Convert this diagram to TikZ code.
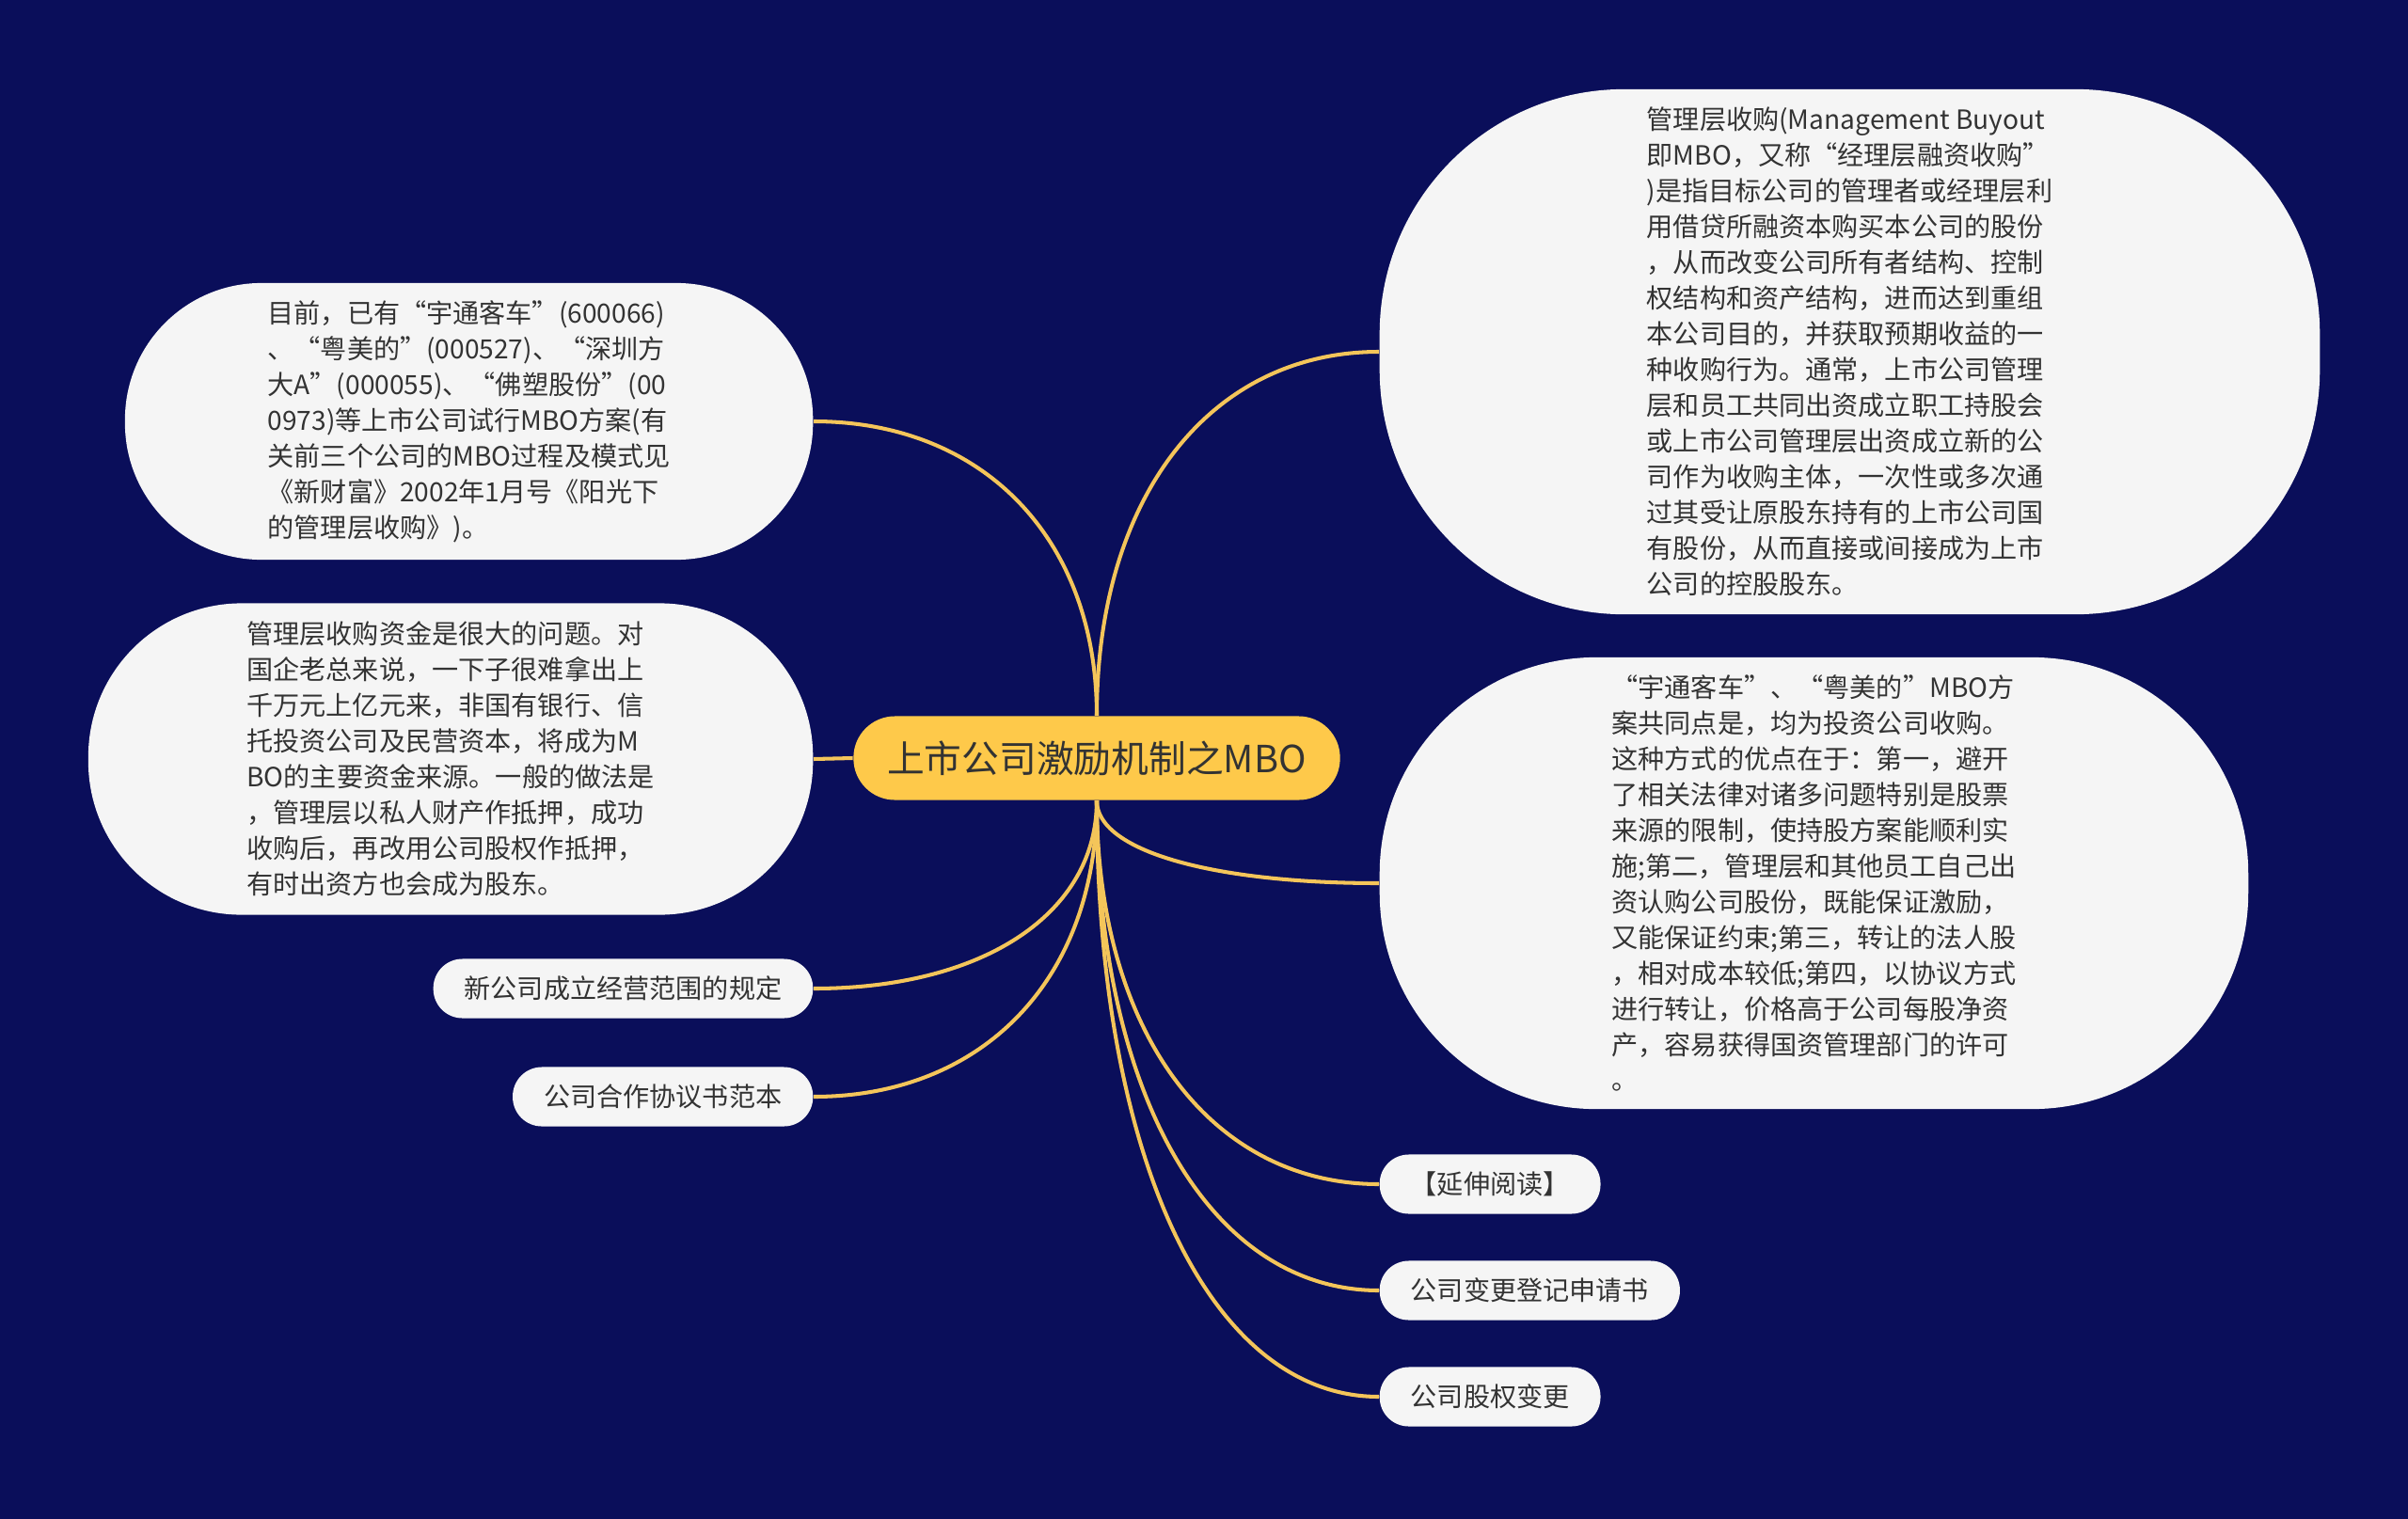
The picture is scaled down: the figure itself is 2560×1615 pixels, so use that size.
\documentclass[tikz,border=0pt]{standalone}
\usepackage{fontspec}
\setmainfont{Noto Sans CJK SC}
\usetikzlibrary{positioning, calc}
\definecolor{mapNavy}{HTML}{0A0E5A}
\definecolor{mapGold}{HTML}{FEC94A}
\definecolor{mapLine}{HTML}{F4C55A}
\definecolor{mapCard}{HTML}{F5F5F5}
\definecolor{mapText}{HTML}{333333}
\tikzset{
  link/.style={draw=mapLine, line width=1.15pt},
  bendlink/.style={to path={.. controls ($(\tikztostart)!0.6!(\tikztostart |- \tikztotarget)$)
                   and ($(\tikztotarget)!0.6!(\tikztostart |- \tikztotarget)$) .. (\tikztotarget)}},
  rootBox/.style={rectangle, rounded corners=0.44cm, fill=mapGold, text=mapText,
                  font=\fontsize{11.3}{13}\selectfont, minimum width=5.17cm,
                  minimum height=0.89cm, inner sep=0pt},
  leafBox/.style={rectangle, rounded corners=0.31cm, fill=mapCard, text=mapText,
                  font=\fontsize{8}{10.8}\selectfont, minimum height=0.63cm,
                  inner xsep=0.33cm, inner ysep=0pt},
  noteBox/.style={rectangle, fill=mapCard, text=mapText, align=left,
                  font=\fontsize{8}{10.8}\selectfont, inner sep=0pt},
}
\begin{document}
\begin{tikzpicture}[x=0.01cm, y=-0.01cm]
    \fill[mapNavy] (0,0) rectangle (2560,1615);
    \useasboundingbox (0,0) rectangle (2560,1615);
    \node[rootBox] (root) at (1166,806) {上市公司激励机制之MBO};
    % right side
    \node[noteBox, anchor=west, minimum width=9.99cm, minimum height=5.58cm, rounded corners=2.6cm]
          (def) at (1466,374) {管理层收购(Management Buyout\\即MBO，又称“经理层融资收购”\\)是指目标公司的管理者或经理层利\\用借贷所融资本购买本公司的股份\\，从而改变公司所有者结构、控制\\权结构和资产结构，进而达到重组\\本公司目的，并获取预期收益的一\\种收购行为。通常，上市公司管理\\层和员工共同出资成立职工持股会\\或上市公司管理层出资成立新的公\\司作为收购主体，一次性或多次通\\过其受让原股东持有的上市公司国\\有股份，从而直接或间接成为上市\\公司的控股股东。};
    \node[noteBox, anchor=west, minimum width=9.23cm, minimum height=4.80cm, rounded corners=2.3cm]
          (merit) at (1466,939) {“宇通客车”、“粤美的”MBO方\\案共同点是，均为投资公司收购。\\这种方式的优点在于：第一，避开\\了相关法律对诸多问题特别是股票\\来源的限制，使持股方案能顺利实\\施;第二，管理层和其他员工自己出\\资认购公司股份，既能保证激励，\\又能保证约束;第三，转让的法人股\\，相对成本较低;第四，以协议方式\\进行转让，价格高于公司每股净资\\产，容易获得国资管理部门的许可\\。};
    \node[leafBox, anchor=west] (more) at (1466,1259) {【延伸阅读】};
    \node[leafBox, anchor=west] (apply) at (1466,1372) {公司变更登记申请书};
    \node[leafBox, anchor=west] (equity) at (1466,1485) {公司股权变更};
    % left side
    \node[noteBox, anchor=east, minimum width=7.31cm, minimum height=2.94cm, rounded corners=1.45cm]
          (cases) at (865,448) {目前，已有“宇通客车”(600066)\\、“粤美的”(000527)、“深圳方\\大A”(000055)、“佛塑股份”(00\\0973)等上市公司试行MBO方案(有\\关前三个公司的MBO过程及模式见\\《新财富》2002年1月号《阳光下\\的管理层收购》)。};
    \node[noteBox, anchor=east, minimum width=7.70cm, minimum height=3.31cm, rounded corners=1.63cm]
          (fund) at (865,807) {管理层收购资金是很大的问题。对\\国企老总来说，一下子很难拿出上\\千万元上亿元来，非国有银行、信\\托投资公司及民营资本，将成为M\\BO的主要资金来源。一般的做法是\\，管理层以私人财产作抵押，成功\\收购后，再改用公司股权作抵押，\\有时出资方也会成为股东。};
    \node[leafBox, anchor=east] (scope) at (865,1051) {新公司成立经营范围的规定};
    \node[leafBox, anchor=east] (deal) at (865,1166) {公司合作协议书范本};
    % links
    \draw[link] (root.north) to[bendlink] (def.west);
    \draw[link] (root.north) to[bendlink] (cases.east);
    \draw[link] (fund.east) -- (root.west);
    \draw[link] (root.south) to[bendlink] (merit.west);
    \draw[link] (root.south) to[bendlink] (more.west);
    \draw[link] (root.south) to[bendlink] (apply.west);
    \draw[link] (root.south) to[bendlink] (equity.west);
    \draw[link] (root.south) to[bendlink] (scope.east);
    \draw[link] (root.south) to[bendlink] (deal.east);
  \end{tikzpicture}
\end{document}
